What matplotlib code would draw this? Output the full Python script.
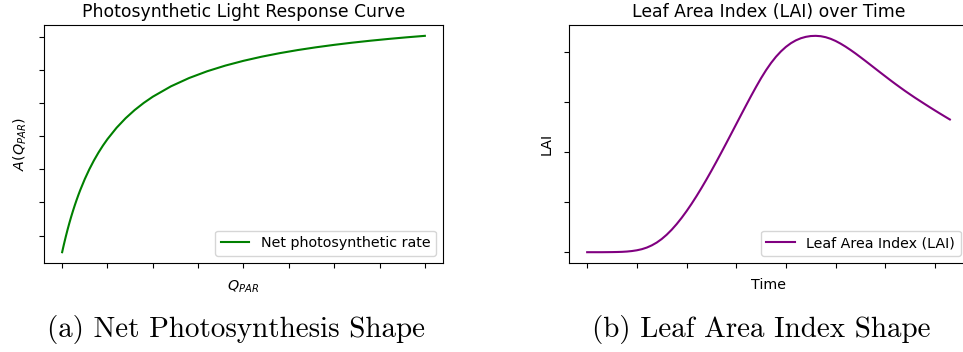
import matplotlib
matplotlib.use("Agg")
import matplotlib.pyplot as plt

# light response curve
q_par = [0, 5, 10, 20, 30, 40, 50, 60, 70, 80, 90, 100, 125, 150, 175, 200, 225, 250,
         300, 350, 400, 450, 500, 600, 700, 800, 900, 1000, 1100, 1200, 1300, 1400,
         1500, 1600, 1700, 1800, 1900, 2000]
net_rate = [-1.0, -0.754, -0.516, -0.063, 0.364, 0.765, 1.143, 1.5, 1.838, 2.158, 2.462,
            2.75, 3.412, 4.0, 4.526, 5.0, 5.429, 5.818, 6.5, 7.077, 7.571, 8.0, 8.375,
            9.0, 9.5, 9.909, 10.25, 10.538, 10.786, 11.0, 11.188, 11.353, 11.5, 11.632,
            11.75, 11.857, 11.955, 12.043]
q_ticks = list(range(0, 2001, 250))
a_ticks = list(range(0, 13, 2))

# leaf area index over the season, every 5 days
days = list(range(0, 366, 5))
lai = [0.0, 0.0, 0.0, 0.0, 0.001, 0.002, 0.004, 0.007, 0.013, 0.023,
       0.038, 0.060, 0.092, 0.136, 0.192, 0.263, 0.348, 0.447, 0.559, 0.683,
       0.818, 0.963, 1.117, 1.279, 1.448, 1.623, 1.803, 1.987, 2.174, 2.363,
       2.553, 2.743, 2.931, 3.117, 3.297, 3.470, 3.629, 3.772, 3.897, 4.004,
       4.094, 4.167, 4.224, 4.266, 4.294, 4.310, 4.314, 4.307, 4.287, 4.255,
       4.212, 4.159, 4.099, 4.033, 3.963, 3.889, 3.814, 3.737, 3.660, 3.583,
       3.507, 3.431, 3.357, 3.285, 3.214, 3.146, 3.079, 3.015, 2.951, 2.888,
       2.826, 2.765, 2.705, 2.646]
day_ticks = list(range(0, 351, 50))
lai_ticks = [0, 1, 2, 3, 4]

captions = ["(a) Net Photosynthesis Shape", "(b) Leaf Area Index Shape"]

plt.rcParams["font.size"] = 10.25

fig = plt.figure(figsize=(9.63, 3.52), dpi=100)

ax1 = fig.add_axes([0.0457, 0.2528, 0.4143, 0.6761])
ax1.plot(q_par, net_rate, color="green", label="Net photosynthetic rate")
ax1.set_xticks(q_ticks)
ax1.set_yticks(a_ticks)
ax1.set_xticklabels([])
ax1.set_yticklabels([])
ax1.set_title("Photosynthetic Light Response Curve", fontsize=12.4)
ax1.set_xlabel("$Q_{PAR}$")
ax1.set_ylabel("$A(Q_{PAR})$")
ax1.legend(loc="lower right")

ax2 = fig.add_axes([0.5909, 0.2528, 0.4143, 0.6761])
ax2.plot(days, lai, color="purple", label="Leaf Area Index (LAI)")
ax2.set_xticks(day_ticks)
ax2.set_yticks(lai_ticks)
ax2.set_xticklabels([])
ax2.set_yticklabels([])
ax2.set_title("Leaf Area Index (LAI) over Time", fontsize=12.4)
ax2.set_xlabel("Time")
ax2.set_ylabel("LAI")
ax2.legend(loc="lower right")

# subfigure captions
fig.text(236 / 963, 0.0426, captions[0], family="cmr10", fontsize=20.9,
         ha="center", va="baseline")
fig.text(761 / 963, 0.0426, captions[1], family="cmr10", fontsize=20.9,
         ha="center", va="baseline")

fig.savefig("out.png", dpi=100)
